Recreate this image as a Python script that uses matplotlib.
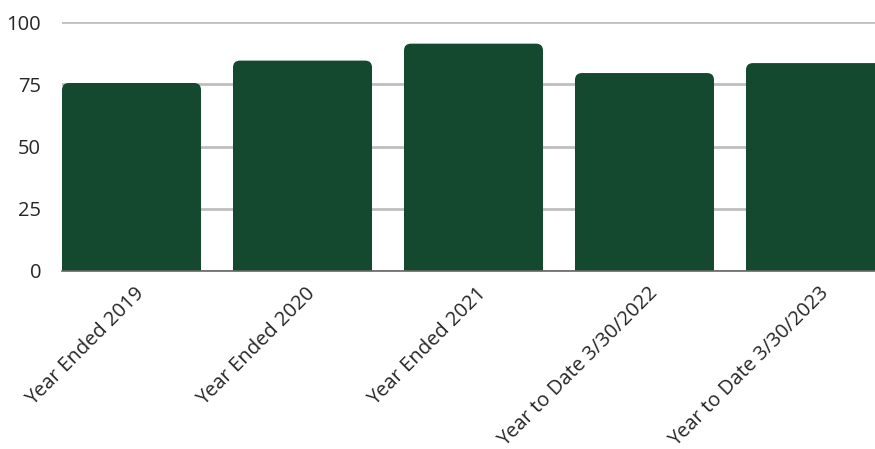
import matplotlib.pyplot as plt
import matplotlib.transforms as mtransforms
from matplotlib.patches import FancyBboxPatch

plt.rcParams["font.family"] = ["Open Sans", "DejaVu Sans"]

categories = [
    "Year Ended 2019",
    "Year Ended 2020",
    "Year Ended 2021",
    "Year to Date 3/30/2022",
    "Year to Date 3/30/2023",
]
values = [75.5, 84.5, 91.3, 79.5, 83.5]
yticks = [0, 25, 50, 75, 100]

bar_color = "#14482f"
grid_color = "#bfbfbf"

fig = plt.figure(figsize=(8.75, 4.49), dpi=100)
ax = fig.add_axes([62 / 875, (449 - 271) / 449, 1 - 62 / 875, 249 / 449])

x = list(range(len(categories)))
width = 0.813
bars = ax.bar(x, values, width=width, color=bar_color, zorder=2)

# swap plain rectangles for ones with rounded top corners
r = 0.041
aspect = 68
for b in bars:
    bx, by = b.get_x(), b.get_y()
    w, h = b.get_width(), b.get_height()
    b.remove()
    drop = r * aspect
    p = FancyBboxPatch(
        (bx, by - drop), w, h + drop,
        boxstyle="round,pad=0,rounding_size=%f" % r,
        mutation_aspect=aspect,
        facecolor=bar_color, edgecolor="none", zorder=2,
    )
    ax.add_patch(p)

ax.set_xlim(-width / 2, 4.348)
ax.set_ylim(0, 100)
ax.set_yticks(yticks)
ax.yaxis.grid(True, color=grid_color, linewidth=2.0, zorder=0)
ax.set_axisbelow(True)

for s in ["top", "right", "left"]:
    ax.spines[s].set_visible(False)
ax.spines["bottom"].set_color("#666666")
ax.spines["bottom"].set_linewidth(1.2)
ax.spines["bottom"].set_zorder(3)

ax.tick_params(axis="both", length=0, labelsize=14.5, colors="#262626")
ax.tick_params(axis="y", pad=15)
ax.set_xticks(x)
ax.set_xticklabels(categories, rotation=45, ha="right", va="center",
                   rotation_mode="anchor")
ax.tick_params(axis="x", pad=14)
shift = mtransforms.ScaledTranslation(10 / 100, 0, fig.dpi_scale_trans)
for lab in ax.get_xticklabels():
    lab.set_transform(lab.get_transform() + shift)

fig.savefig("out.png", dpi=100, facecolor="white")
